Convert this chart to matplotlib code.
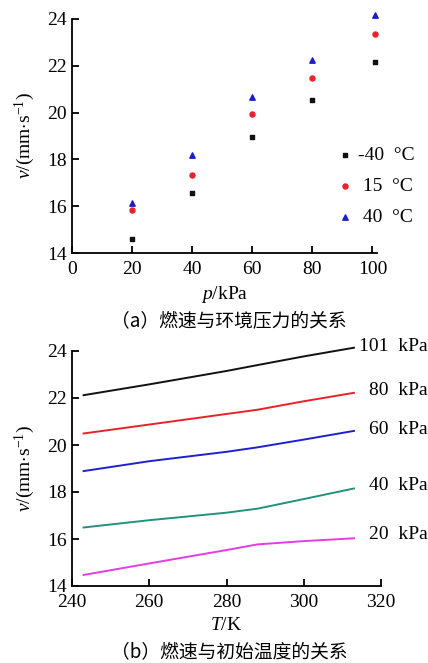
import numpy as np
import matplotlib
matplotlib.use("Agg")
import matplotlib.pyplot as plt

plt.rcParams['font.family'] = ['Liberation Serif', 'DejaVu Serif']
plt.rcParams['mathtext.fontset'] = 'custom'
plt.rcParams['mathtext.rm'] = 'Liberation Serif'
plt.rcParams['mathtext.it'] = 'Liberation Serif:italic'

# (a) burning rate vs ambient pressure
pressure = [20, 40, 60, 80, 101]
v_m40 = [14.60, 16.56, 18.96, 20.52, 22.15]
v_15 = [15.84, 17.33, 19.93, 21.49, 23.36]
v_40 = [16.12, 18.20, 20.65, 22.23, 24.16]

# (b) burning rate vs initial temperature
temp = [243, 260, 280, 288, 300, 313]
v_101 = [22.12, 22.58, 23.15, 23.40, 23.77, 24.14]
v_80 = [20.49, 20.87, 21.32, 21.50, 21.86, 22.22]
v_60 = [18.89, 19.31, 19.71, 19.90, 20.23, 20.60]
v_40k = [16.49, 16.80, 17.12, 17.29, 17.70, 18.15]
v_20 = [14.47, 14.96, 15.53, 15.77, 15.91, 16.03]
line_labels = ['101  kPa', '80  kPa', '60  kPa', '40  kPa', '20  kPa']
label_y = [24.2, 22.33, 20.66, 18.29, 16.2]

fs = 14
cjk = ['Noto Sans CJK SC', 'DejaVu Sans']
fig = plt.figure(figsize=(4.28, 6.63), dpi=100)
W, H = 428, 663

def style(ax):
    ax.spines['top'].set_visible(False)
    ax.spines['right'].set_visible(False)
    for s in ['left', 'bottom']:
        ax.spines[s].set_linewidth(1.3)
    ax.tick_params(direction='in', length=5, width=1.3, labelsize=fs)
    ax.tick_params(axis='x', pad=6)
    ax.tick_params(axis='y', pad=4)

# top axes
ax1 = fig.add_axes([72 / W, 1 - 253 / H, (377 - 72) / W, (253 - 19) / H])
style(ax1)
ax1.scatter(pressure, v_m40, marker='s', s=11, color='#111111', label='-40  \u00b0C', clip_on=False)
ax1.scatter(pressure, v_15, marker='o', s=13, color='#e8222a', label=' 15  \u00b0C', clip_on=False)
ax1.scatter(pressure, v_40, marker='^', s=15, color='#1c1ccc', label=' 40  \u00b0C', clip_on=False)
ax1.set_xlim(0, 101.5)
ax1.set_ylim(14, 24)
ax1.set_xticks([0, 20, 40, 60, 80, 100])
ax1.set_yticks([14, 16, 18, 20, 22, 24])
ax1.set_xlabel(r'$\mathit{p}$/kPa', fontsize=fs, labelpad=4)
ax1.set_ylabel(r'$\mathit{v}$/(mm$\cdot$s$^{-1}$)', fontsize=fs, labelpad=7)
ax1.legend(loc='center left', bbox_to_anchor=(0.87, 0.285), frameon=False,
           fontsize=fs, handletextpad=0.25, labelspacing=0.7, handlelength=0.8,
           borderpad=0, borderaxespad=0, markerscale=1.0)
fig.text(0.535, 1 - 321 / H, '（a）燃速与环境压力的关系', ha='center', va='center',
         fontsize=13.5, family=cjk)

# bottom axes
ax2 = fig.add_axes([72 / W, 1 - 586 / H, (381 - 72) / W, (586 - 351) / H])
style(ax2)
series = [v_101, v_80, v_60, v_40k, v_20]
colors = ['#111111', '#e8222a', '#2020cc', '#24907e', '#e23ee2']
for vals, c in zip(series, colors):
    ax2.plot(temp, vals, color=c, lw=1.4, clip_on=False)
for lab, y in zip(line_labels, label_y):
    ax2.text(332, y, lab, ha='right', va='center', fontsize=fs, clip_on=False)
ax2.set_xlim(240, 320)
ax2.set_ylim(14, 24)
ax2.set_xticks([240, 260, 280, 300, 320])
ax2.set_yticks([14, 16, 18, 20, 22, 24])
ax2.set_xlabel(r'$\mathit{T}$/K', fontsize=fs, labelpad=4)
ax2.set_ylabel(r'$\mathit{v}$/(mm$\cdot$s$^{-1}$)', fontsize=fs, labelpad=7)
fig.text(0.535, 1 - 652 / H, '（b）燃速与初始温度的关系', ha='center', va='center',
         fontsize=13.5, family=cjk)

fig.savefig('out.png', dpi=100)
